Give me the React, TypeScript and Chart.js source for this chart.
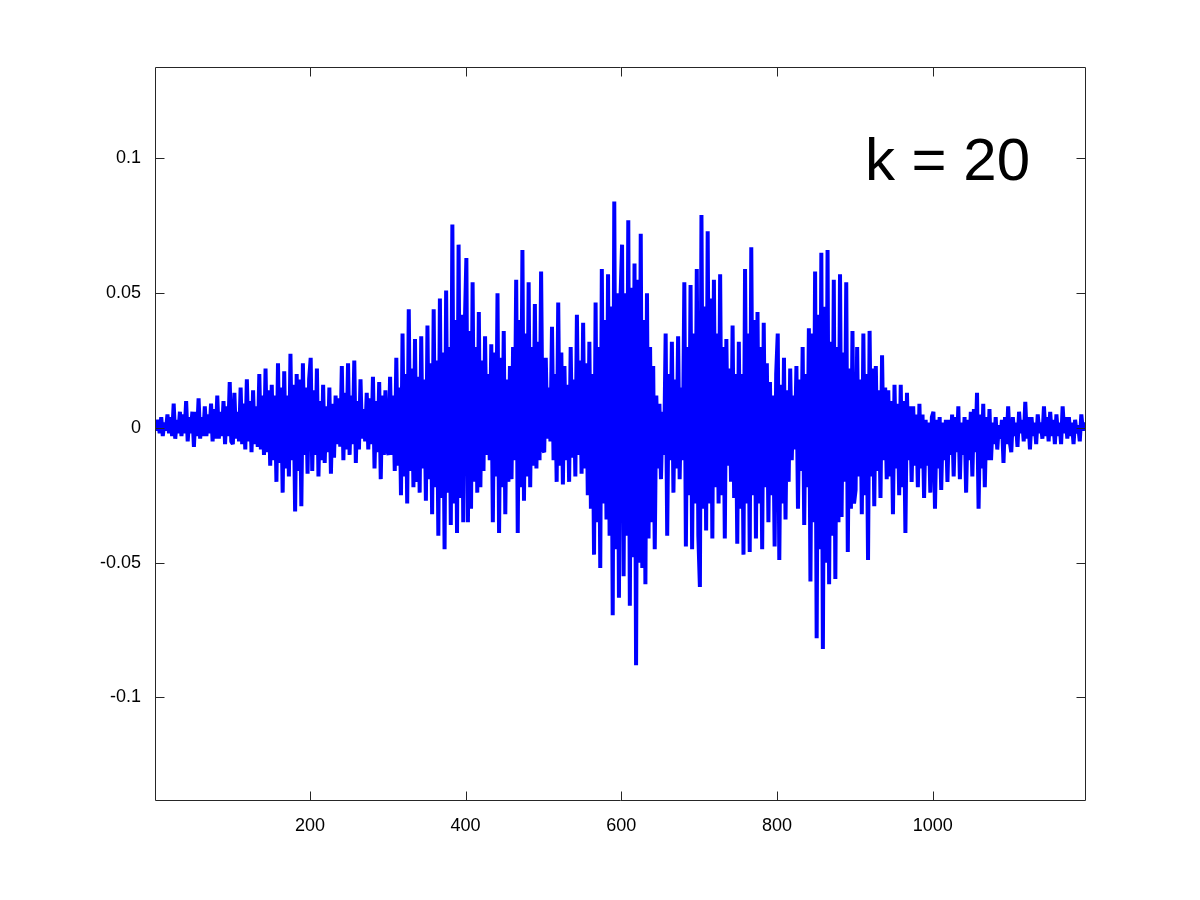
import React, { useEffect, useRef } from "react";
import { Chart, registerables } from "chart.js";

Chart.register(...registerables);

// Sample index of the first plotted value and spacing between plotted samples
const firstSample = 1;
const sampleStep = 2;

// Signal values, 50 samples per block of 100 indices
const block0001 = [0.002, -0.001, 0.003, -0.002, 0.004, -0.003, 0.002, -0.001, 0.005, -0.002, 0.004, -0.003, 0.009, -0.004, 0.003, -0.002, 0.006, -0.003, 0.005, -0.002, 0.010, -0.005, 0.004, -0.002, 0.006, -0.007, 0.006, -0.003, 0.011, -0.004, 0.004, -0.003, 0.008, -0.003, 0.005, -0.002, 0.009, -0.005, 0.007, -0.004, 0.012, -0.004, 0.006, -0.003, 0.010, -0.006, 0.008, -0.003, 0.017, -0.005];
const block0101 = [-0.006, 0.013, -0.004, 0.006, -0.005, 0.015, -0.006, 0.009, -0.008, 0.018, -0.005, 0.010, -0.009, 0.014, -0.006, 0.008, -0.007, 0.020, -0.008, 0.012, -0.010, 0.022, -0.009, 0.014, -0.014, 0.016, -0.012, 0.012, -0.020, 0.024, -0.013, 0.015, -0.024, 0.021, -0.015, 0.012, -0.018, 0.0275, -0.012, 0.016, -0.031, 0.020, -0.016, 0.018, -0.029, 0.024, -0.010, 0.015, -0.017, 0.018];
const block0201 = [0.026, -0.016, 0.014, -0.010, 0.022, -0.018, 0.010, -0.012, 0.016, -0.013, 0.008, -0.009, 0.015, -0.017, 0.009, -0.011, 0.012, -0.006, 0.011, -0.007, 0.023, -0.012, 0.013, -0.008, 0.024, -0.010, 0.012, -0.006, 0.025, -0.013, 0.010, -0.008, 0.018, -0.004, 0.007, -0.005, 0.013, -0.008, 0.011, -0.006, 0.019, -0.015, 0.010, -0.009, 0.017, -0.019, 0.012, -0.010, 0.014, -0.008];
const block0301 = [-0.010, 0.019, -0.010, 0.012, -0.016, 0.026, -0.014, 0.015, -0.025, 0.035, -0.018, 0.020, -0.028, 0.044, -0.016, 0.022, -0.022, 0.033, -0.020, 0.019, -0.024, 0.034, -0.015, 0.018, -0.027, 0.038, -0.019, 0.024, -0.032, 0.044, -0.022, 0.025, -0.040, 0.048, -0.026, 0.028, -0.045, 0.051, -0.024, 0.030, -0.036, 0.0755, -0.028, 0.040, -0.039, 0.068, -0.026, 0.042, -0.035, 0.038];
const block0401 = [0.063, -0.035, 0.036, -0.030, 0.054, -0.020, 0.030, -0.024, 0.043, -0.022, 0.025, -0.016, 0.034, -0.010, 0.020, -0.012, 0.031, -0.035, 0.028, -0.018, 0.050, -0.039, 0.026, -0.022, 0.036, -0.032, 0.018, -0.020, 0.023, -0.019, 0.030, -0.012, 0.055, -0.039, 0.040, -0.022, 0.066, -0.027, 0.035, -0.018, 0.054, -0.022, 0.030, -0.014, 0.046, -0.015, 0.032, -0.012, 0.058, -0.008];
const block0501 = [-0.009, 0.026, -0.004, 0.015, -0.005, 0.0375, -0.012, 0.020, -0.020, 0.0465, -0.014, 0.028, -0.021, 0.023, -0.012, 0.016, -0.020, 0.030, -0.011, 0.018, -0.018, 0.042, -0.010, 0.025, -0.017, 0.039, -0.015, 0.024, -0.025, 0.032, -0.030, 0.020, -0.047, 0.0465, -0.035, 0.030, -0.052, 0.059, -0.028, 0.040, -0.034, 0.057, -0.040, 0.045, -0.0695, 0.084, -0.045, 0.050, -0.063, 0.048];
const block0601 = [0.068, -0.055, 0.050, -0.040, 0.077, -0.066, 0.052, -0.048, 0.061, -0.088, 0.055, -0.050, 0.072, -0.052, 0.040, -0.058, 0.050, -0.041, 0.030, -0.035, 0.023, -0.045, 0.012, -0.015, 0.009, -0.019, 0.006, -0.010, 0.035, -0.040, 0.020, -0.012, 0.032, -0.024, 0.018, -0.015, 0.034, -0.019, 0.015, -0.012, 0.054, -0.044, 0.030, -0.025, 0.053, -0.045, 0.035, -0.028, 0.059, -0.040];
const block0701 = [-0.059, 0.079, -0.030, 0.045, -0.038, 0.073, -0.028, 0.048, -0.041, 0.055, -0.022, 0.035, -0.028, 0.057, -0.025, 0.030, -0.041, 0.033, -0.014, 0.022, -0.020, 0.038, -0.026, 0.020, -0.043, 0.032, -0.030, 0.020, -0.047, 0.059, -0.028, 0.035, -0.046, 0.067, -0.025, 0.040, -0.041, 0.043, -0.028, 0.030, -0.045, 0.039, -0.022, 0.024, -0.035, 0.017, -0.025, 0.012, -0.044, 0.020];
const block0801 = [0.035, -0.049, 0.016, -0.028, 0.026, -0.034, 0.014, -0.020, 0.022, -0.012, 0.012, -0.008, 0.023, -0.030, 0.018, -0.016, 0.030, -0.036, 0.020, -0.022, 0.037, -0.057, 0.035, -0.035, 0.058, -0.078, 0.042, -0.045, 0.065, -0.082, 0.045, -0.050, 0.066, -0.058, 0.032, -0.040, 0.055, -0.056, 0.030, -0.035, 0.057, -0.033, 0.028, -0.020, 0.054, -0.046, 0.022, -0.030, 0.036, -0.028];
const block0901 = [-0.023, 0.030, -0.018, 0.018, -0.032, 0.035, -0.025, 0.020, -0.049, 0.036, -0.018, 0.022, -0.029, 0.023, -0.016, 0.014, -0.026, 0.027, -0.012, 0.015, -0.019, 0.014, -0.018, 0.010, -0.032, 0.016, -0.015, 0.009, -0.025, 0.016, -0.022, 0.010, -0.039, 0.013, -0.012, 0.008, -0.020, 0.008, -0.014, 0.005, -0.022, 0.009, -0.015, 0.005, -0.026, 0.003, -0.014, 0.002, -0.024, 0.004];
const block1001 = [0.006, -0.030, 0.003, -0.015, 0.004, -0.023, 0.002, -0.012, 0.003, -0.020, 0.003, -0.010, 0.005, -0.018, 0.004, -0.009, 0.008, -0.019, 0.002, -0.010, 0.004, -0.024, 0.003, -0.012, 0.006, -0.018, 0.007, -0.009, 0.013, -0.030, 0.005, -0.015, 0.009, -0.022, 0.004, -0.012, 0.007, -0.012, 0.002, -0.006, 0.004, -0.008, 0.001, -0.004, 0.003, -0.013, 0.004, -0.006, 0.008, -0.005];
const block1101 = [-0.009, 0.004, -0.003, 0.002, -0.007, 0.006, -0.002, 0.003, -0.005, 0.0097, -0.004, 0.004, -0.008, 0.004, -0.003, 0.002, -0.006, 0.005, -0.002, 0.002, -0.004, 0.008, -0.003, 0.004, -0.005, 0.006, -0.003, 0.003, -0.006, 0.005, -0.003, 0.002, -0.006, 0.008, -0.002, 0.004, -0.004, 0.004, -0.003, 0.002, -0.006, 0.003, -0.002, 0.001, -0.005, 0.005, -0.001, 0.002, -0.001];

const signal = [
  ...block0001, ...block0101, ...block0201, ...block0301,
  ...block0401, ...block0501, ...block0601, ...block0701,
  ...block0801, ...block0901, ...block1001, ...block1101,
];

const xTickValues = [200, 400, 600, 800, 1000];
const xTickLabels = ["200", "400", "600", "800", "1000"];
const yTickValues = [-0.1, -0.05, 0, 0.05, 0.1];
const yTickLabels = ["-0.1", "-0.05", "0", "0.05", "0.1"];
const xLimits = [1, 1197];
const yLimits = [-0.1384, 0.1339];

const annotationText = "k = 20";
const annotationX = 913;
const annotationY = 0.092;

const FONT = '"Liberation Sans", Arial, Helvetica, sans-serif';

const framePlugin = {
  id: "octaveFrame",
  afterDraw(chart: any) {
    const { ctx, chartArea: a } = chart;
    const xs = chart.scales.x;
    const ys = chart.scales.y;
    ctx.save();
    ctx.strokeStyle = "#262626";
    ctx.lineWidth = 1;
    const L = a.left + 0.5;
    const R = a.right - 0.5;
    const T = a.top + 0.5;
    const B = a.bottom - 0.5;
    ctx.beginPath();
    ctx.rect(L, T, R - L, B - T);
    ctx.stroke();
    const tl = 9;
    ctx.beginPath();
    xTickValues.forEach((v) => {
      const px = Math.round(xs.getPixelForValue(v)) + 0.5;
      ctx.moveTo(px, B);
      ctx.lineTo(px, B - tl);
      ctx.moveTo(px, T);
      ctx.lineTo(px, T + tl);
    });
    yTickValues.forEach((v) => {
      const py = Math.round(ys.getPixelForValue(v)) + 0.5;
      ctx.moveTo(L, py);
      ctx.lineTo(L + tl, py);
      ctx.moveTo(R, py);
      ctx.lineTo(R - tl, py);
    });
    ctx.stroke();
    ctx.fillStyle = "#000000";
    ctx.font = `60px ${FONT}`;
    ctx.textAlign = "left";
    ctx.textBaseline = "alphabetic";
    ctx.fillText(annotationText, xs.getPixelForValue(annotationX), ys.getPixelForValue(annotationY));
    ctx.restore();
  },
};

function findLabel(values: number[], labels: string[], v: number) {
  const i = values.findIndex((t) => Math.abs(t - v) < 1e-9);
  return i >= 0 ? labels[i] : "";
}

export default function App() {
  const canvasRef = useRef<HTMLCanvasElement | null>(null);

  useEffect(() => {
    const canvas = canvasRef.current;
    if (!canvas) return;
    const points = signal.map((v, i) => ({ x: firstSample + i * sampleStep, y: v }));
    const chart = new Chart(canvas, {
      type: "line",
      data: {
        datasets: [
          {
            data: points,
            borderColor: "#0000ff",
            borderWidth: 4,
            borderJoinStyle: "bevel",
            pointRadius: 0,
            tension: 0,
            fill: false,
          },
        ],
      },
      options: {
        animation: false,
        responsive: false,
        maintainAspectRatio: false,
        layout: { padding: { left: 0, top: 67, right: 114, bottom: 0 } },
        plugins: { legend: { display: false }, tooltip: { enabled: false } },
        scales: {
          x: {
            type: "linear",
            min: xLimits[0],
            max: xLimits[1],
            grid: { display: false, drawTicks: false },
            border: { display: false },
            ticks: {
              color: "#000000",
              font: { family: FONT, size: 18 },
              padding: 14,
              maxRotation: 0,
              callback: (v: any) => findLabel(xTickValues, xTickLabels, Number(v)),
            },
            afterBuildTicks: (scale: any) => {
              scale.ticks = xTickValues.map((value) => ({ value }));
            },
            afterFit: (scale: any) => {
              scale.height = 99;
            },
          },
          y: {
            type: "linear",
            min: yLimits[0],
            max: yLimits[1],
            grid: { display: false, drawTicks: false },
            border: { display: false },
            ticks: {
              color: "#000000",
              font: { family: FONT, size: 18 },
              padding: 14,
              callback: (v: any) => findLabel(yTickValues, yTickLabels, Number(v)),
            },
            afterBuildTicks: (scale: any) => {
              scale.ticks = yTickValues.map((value) => ({ value }));
            },
            afterFit: (scale: any) => {
              scale.width = 155;
            },
          },
        },
      },
      plugins: [framePlugin],
    });
    return () => chart.destroy();
  }, []);

  return (
    <div style={{ position: "fixed", left: 0, top: 0, width: 1200, height: 900, background: "#ffffff" }}>
      <canvas ref={canvasRef} width={1200} height={900} style={{ width: 1200, height: 900, display: "block" }} />
    </div>
  );
}
